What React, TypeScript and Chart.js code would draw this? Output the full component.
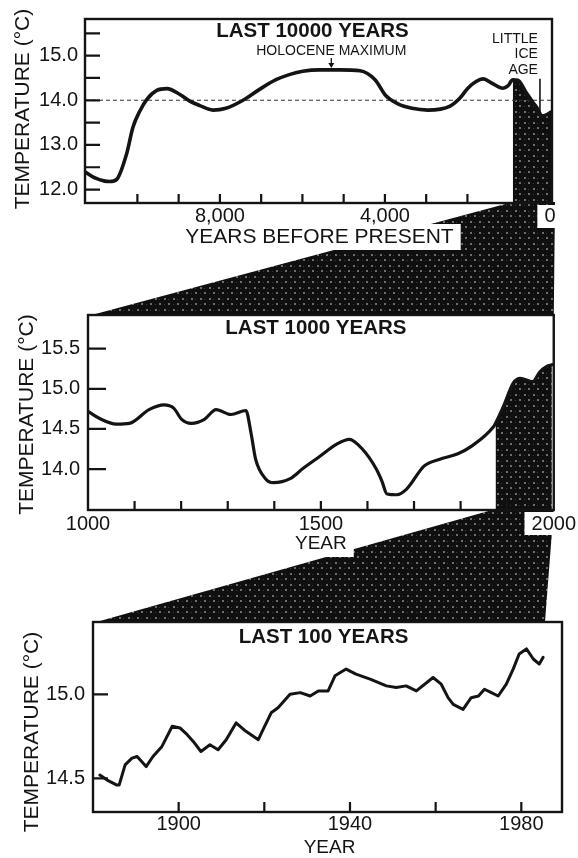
import React, { useEffect, useRef } from 'react';
import { Chart, registerables } from 'chart.js';

Chart.register(...registerables);

const FONT = "'Liberation Sans', Arial, Helvetica, sans-serif";
const INK = '#141414';

// ---------- Panel 1: last 10000 years (years before present) ----------
const p1Years = [11270, 11030, 10790, 10670, 10500, 10255, 10110, 9940, 9770, 9530, 9285, 8970, 8730, 8485, 8170, 7855, 7440, 7030, 6640, 6300, 5990, 5575, 5090, 4605, 4240, 3975, 3685, 3345, 2960, 2420, 2180, 1990, 1790, 1620, 1400, 1140, 1020, 900, 780, 560, 410, 315, 195, 75, -50];
const p1Temps = [12.40, 12.26, 12.19, 12.18, 12.23, 12.82, 13.39, 13.76, 14.02, 14.22, 14.26, 14.13, 13.98, 13.88, 13.78, 13.82, 14.00, 14.25, 14.46, 14.58, 14.65, 14.68, 14.68, 14.66, 14.46, 14.10, 13.92, 13.82, 13.78, 13.87, 14.05, 14.27, 14.42, 14.48, 14.38, 14.27, 14.32, 14.46, 14.45, 14.15, 13.95, 13.83, 13.65, 13.68, 13.75];
const p1XRange = [-50, 11270];
const p1YRange = [11.70, 15.82];
const p1XLabels = [8000, 4000, 0];
const p1XMarks = [10000, 9000, 8000, 7000, 6000, 5000, 4000, 3000, 2000];
const p1YLabels = [12, 13, 14, 15];
const p1YMarks = [12, 12.5, 13, 13.5, 14, 14.5, 15, 15.5];
const p1Reference = 14.0;
const p1ZoomFrom = [900, 0];
const holoceneYear = 5300;
const liaYear = 242;
const liaTemps = [13.70, 14.48];
const liaLines = ['LITTLE', 'ICE', 'AGE'];

// ---------- Panel 2: last 1000 years ----------
const p2Years = [1000, 1025, 1061, 1089, 1131, 1163, 1184, 1201, 1222, 1250, 1275, 1307, 1339, 1350, 1360, 1381, 1398, 1434, 1462, 1498, 1534, 1561, 1589, 1619, 1631, 1642, 1663, 1684, 1722, 1754, 1794, 1822, 1871, 1875, 1892, 1913, 1928, 1955, 1970, 1985, 1996];
const p2Temps = [14.72, 14.63, 14.56, 14.57, 14.74, 14.80, 14.76, 14.62, 14.57, 14.62, 14.74, 14.68, 14.73, 14.45, 14.12, 13.88, 13.83, 13.88, 14.01, 14.16, 14.31, 14.37, 14.25, 14.00, 13.85, 13.69, 13.68, 13.75, 14.04, 14.12, 14.19, 14.28, 14.53, 14.57, 14.78, 15.07, 15.13, 15.09, 15.21, 15.28, 15.30];
const p2XRange = [1000, 2000];
const p2YRange = [13.49, 15.92];
const p2XLabels = [1000, 1500, 2000];
const p2XMarks = [1100, 1200, 1300, 1400, 1500, 1600, 1700, 1800, 1900];
const p2YLabels = [14, 14.5, 15, 15.5];
const p2YMarks = [14, 14.5, 15, 15.5];
const p2ZoomFrom = [1875, 2000];

// ---------- Panel 3: last 100 years ----------
const p3Years = [1881.6, 1883.3, 1885.6, 1886.1, 1887.5, 1889.1, 1890.3, 1892.4, 1894.0, 1896.1, 1897.5, 1898.5, 1900.3, 1902.0, 1903.4, 1905.2, 1907.3, 1909.2, 1911.1, 1913.4, 1915.7, 1918.6, 1919.7, 1921.6, 1923.2, 1926.0, 1928.4, 1930.7, 1932.6, 1934.9, 1936.5, 1939.1, 1941.4, 1944.7, 1948.5, 1950.8, 1953.1, 1955.5, 1959.4, 1961.3, 1962.9, 1964.1, 1966.4, 1968.3, 1970.0, 1971.4, 1973.0, 1974.6, 1976.5, 1978.1, 1979.5, 1981.2, 1982.8, 1984.2, 1985.1];
const p3Temps = [14.52, 14.49, 14.46, 14.46, 14.58, 14.62, 14.63, 14.57, 14.63, 14.69, 14.76, 14.81, 14.80, 14.76, 14.72, 14.66, 14.70, 14.67, 14.73, 14.83, 14.78, 14.73, 14.79, 14.89, 14.92, 15.00, 15.01, 14.99, 15.02, 15.02, 15.11, 15.15, 15.12, 15.09, 15.05, 15.04, 15.05, 15.02, 15.10, 15.06, 14.98, 14.94, 14.91, 14.98, 14.99, 15.03, 15.01, 14.99, 15.06, 15.15, 15.24, 15.27, 15.21, 15.18, 15.22];
const p3XRange = [1880, 1989.5];
const p3YRange = [14.30, 15.43];
const p3XLabels = [1900, 1940, 1980];
const p3XMarks = [1900, 1920, 1940, 1960, 1980];
const p3YLabels = [14.5, 15];
const p3YMarks = [14.5, 15];
const p3ZoomTo = [1880, 1985.5];

const Y_TITLE = 'TEMPERATURE (°C)';

function makePattern(ctx: CanvasRenderingContext2D): CanvasPattern | string {
  const c = document.createElement('canvas');
  c.width = 9;
  c.height = 11;
  const g = c.getContext('2d')!;
  g.fillStyle = '#0f0f0f';
  g.fillRect(0, 0, 9, 11);
  g.fillStyle = '#6e6e6e';
  g.fillRect(2, 1, 2, 2);
  g.fillRect(6, 6, 2, 2);
  g.fillStyle = '#3a3a3a';
  g.fillRect(2, 7, 1, 1);
  g.fillRect(6, 2, 1, 1);
  return ctx.createPattern(c, 'repeat') || '#111';
}

type Spec = {
  xs: number[]; ys: number[];
  xRange: number[]; yRange: number[]; reverse: boolean;
  xLabels: number[]; xMarks: number[]; yLabels: number[]; yMarks: number[];
  xFmt: (v: number) => string; yFmt: (v: number) => string;
  zoomFrom?: number[];
  pad: { top: number; right: number }; yAxisWidth: number; xAxisHeight: number;
  xLabelPad: number; yLabelPad: number;
  yTickLen: number; xTickLen: number; lineWidth: number; smooth: boolean;
  title: string; titleDx: number; titleDy: number;
  xTitle: string; xTitleSize: number; xTitleDx: number; xTitleDy: number; xTitleBox: boolean;
  yTitleX: number; yTitleDy: number;
  boxedLabels: number[];
  extraDatasets?: any[];
  extra?: (chart: any) => void;
};

function buildChart(canvas: HTMLCanvasElement, spec: Spec): Chart {
  const ctx = canvas.getContext('2d')!;
  const pattern = makePattern(ctx);
  const pts = spec.xs.map((x, i) => ({ x, y: spec.ys[i] }));
  const datasets: any[] = [
    {
      data: pts, borderColor: INK, borderWidth: spec.lineWidth, pointRadius: 0, fill: false,
      tension: spec.smooth ? 0.4 : 0, cubicInterpolationMode: spec.smooth ? 'monotone' : 'default',
      borderCapStyle: 'round', borderJoinStyle: 'round',
    },
    ...(spec.extraDatasets || []),
  ];
  if (spec.zoomFrom) {
    const fillPts = pts.filter((p) => (spec.reverse ? p.x <= spec.zoomFrom![0] : p.x >= spec.zoomFrom![0]));
    datasets.push({
      data: fillPts, borderWidth: 0, pointRadius: 0, fill: 'start', backgroundColor: pattern,
      tension: 0.4, cubicInterpolationMode: spec.smooth ? 'monotone' : 'default',
    });
  }

  const deco = {
    id: 'deco',
    beforeDraw(chart: any) {
      const { chartArea: a, scales } = chart;
      const c = chart.ctx as CanvasRenderingContext2D;
      c.save();
      c.fillStyle = '#fff';
      c.font = `20px ${FONT}`;
      for (const v of spec.boxedLabels) {
        const x = scales.x.getPixelForValue(v);
        const w = c.measureText(spec.xFmt(v)).width;
        c.fillRect(x - w / 2 - 7, a.bottom + 2, w + 14, 23);
      }
      if (spec.xTitleBox) {
        c.font = `${spec.xTitleSize}px ${FONT}`;
        const w = c.measureText(spec.xTitle).width;
        const cx = (a.left + a.right) / 2 + spec.xTitleDx;
        const cy = a.bottom + spec.xTitleDy;
        c.fillRect(cx - w / 2 - 7, cy - 13, w + 14, 26);
      }
      c.restore();
    },
    afterDatasetsDraw(chart: any) {
      const { chartArea: a, scales } = chart;
      const c = chart.ctx as CanvasRenderingContext2D;
      c.save();
      c.strokeStyle = INK;
      c.lineWidth = 2.4;
      c.strokeRect(a.left, a.top, a.right - a.left, a.bottom - a.top);
      c.lineWidth = 2.2;
      c.beginPath();
      for (const v of spec.yMarks) {
        const y = scales.y.getPixelForValue(v);
        c.moveTo(a.left, y);
        c.lineTo(a.left + spec.yTickLen, y);
      }
      for (const v of spec.xMarks) {
        const x = scales.x.getPixelForValue(v);
        c.moveTo(x, a.bottom);
        c.lineTo(x, a.bottom - spec.xTickLen);
      }
      c.stroke();
      if (spec.extra) spec.extra(chart);
      c.restore();
    },
    afterDraw(chart: any) {
      const { chartArea: a } = chart;
      const c = chart.ctx as CanvasRenderingContext2D;
      c.save();
      c.fillStyle = INK;
      c.textAlign = 'center';
      c.textBaseline = 'middle';
      c.font = `bold 20.5px ${FONT}`;
      c.fillText(spec.title, (a.left + a.right) / 2 + spec.titleDx, a.top + spec.titleDy);
      c.font = `${spec.xTitleSize}px ${FONT}`;
      c.fillText(spec.xTitle, (a.left + a.right) / 2 + spec.xTitleDx, a.bottom + spec.xTitleDy);
      c.translate(spec.yTitleX, (a.top + a.bottom) / 2 + spec.yTitleDy);
      c.rotate(-Math.PI / 2);
      c.font = `21px ${FONT}`;
      c.fillText(Y_TITLE, 0, 0);
      c.restore();
    },
  };

  return new Chart(canvas, {
    type: 'line',
    data: { datasets },
    options: {
      responsive: false,
      animation: false,
      events: [],
      layout: { padding: { left: 0, top: spec.pad.top, right: spec.pad.right, bottom: 0 } },
      plugins: { legend: { display: false }, tooltip: { enabled: false }, title: { display: false } },
      scales: {
        x: {
          type: 'linear', min: spec.xRange[0], max: spec.xRange[1], reverse: spec.reverse,
          grid: { display: false, drawTicks: false }, border: { display: false },
          ticks: {
            autoSkip: false, maxRotation: 0, padding: spec.xLabelPad, color: INK,
            font: { family: FONT, size: 20 }, callback: (v: any) => spec.xFmt(Number(v)),
          },
          afterBuildTicks: (s: any) => { s.ticks = spec.xLabels.map((v) => ({ value: v })); },
          afterFit: (s: any) => { s.height = spec.xAxisHeight; },
        },
        y: {
          type: 'linear', min: spec.yRange[0], max: spec.yRange[1],
          grid: { display: false, drawTicks: false }, border: { display: false },
          ticks: {
            autoSkip: false, padding: spec.yLabelPad, color: INK,
            font: { family: FONT, size: 20 }, callback: (v: any) => spec.yFmt(Number(v)),
          },
          afterBuildTicks: (s: any) => { s.ticks = spec.yLabels.map((v) => ({ value: v })); },
          afterFit: (s: any) => { s.width = spec.yAxisWidth; },
        },
      },
    } as any,
    plugins: [deco as any],
  });
}

const CANVAS_TOPS = [0, 250, 560];
const CANVAS_HEIGHTS = [250, 310, 298];

export default function App() {
  const overlayRef = useRef<HTMLCanvasElement>(null);
  const r1 = useRef<HTMLCanvasElement>(null);
  const r2 = useRef<HTMLCanvasElement>(null);
  const r3 = useRef<HTMLCanvasElement>(null);

  useEffect(() => {
    const fmtComma = (v: number) => v.toLocaleString('en-US');
    const fmtYear = (v: number) => String(v);
    const fmt1 = (v: number) => v.toFixed(1);

    const c1 = buildChart(r1.current!, {
      xs: p1Years, ys: p1Temps, xRange: p1XRange, yRange: p1YRange, reverse: true,
      xLabels: p1XLabels, xMarks: p1XMarks, yLabels: p1YLabels, yMarks: p1YMarks,
      xFmt: fmtComma, yFmt: fmt1, zoomFrom: p1ZoomFrom,
      pad: { top: 15, right: 26 }, yAxisWidth: 85, xAxisHeight: 47,
      xLabelPad: 1, yLabelPad: 7, yTickLen: 15, xTickLen: 9, lineWidth: 3.6, smooth: true,
      title: 'LAST 10000 YEARS', titleDx: -6, titleDy: 12,
      xTitle: 'YEARS BEFORE PRESENT', xTitleSize: 21, xTitleDx: 1, xTitleDy: 34, xTitleBox: true,
      yTitleX: 23, yTitleDy: -2, boxedLabels: [0],
      extraDatasets: [
        {
          data: [{ x: p1XRange[1], y: p1Reference }, { x: p1XRange[0], y: p1Reference }],
          borderColor: '#333', borderWidth: 1.1, borderDash: [4, 3], pointRadius: 0, fill: false,
        },
        {
          data: liaTemps.map((t) => ({ x: liaYear, y: t })),
          borderColor: INK, borderWidth: 1.6, pointRadius: 0, fill: false,
        },
      ],
      extra: (chart: any) => {
        const c = chart.ctx as CanvasRenderingContext2D;
        const a = chart.chartArea;
        const hx = chart.scales.x.getPixelForValue(holoceneYear);
        c.fillStyle = INK;
        c.font = `14px ${FONT}`;
        c.textAlign = 'center';
        c.textBaseline = 'middle';
        c.fillText('HOLOCENE MAXIMUM', hx, a.top + 32);
        c.lineWidth = 1.3;
        c.beginPath();
        c.moveTo(hx, a.top + 39);
        c.lineTo(hx, a.top + 46);
        c.stroke();
        c.beginPath();
        c.moveTo(hx - 3, a.top + 44);
        c.lineTo(hx + 3, a.top + 44);
        c.lineTo(hx, a.top + 49);
        c.closePath();
        c.fill();
        const lx = chart.scales.x.getPixelForValue(liaYear);
        const ly = chart.scales.y.getPixelForValue(liaTemps[1]);
        c.textAlign = 'right';
        liaLines.forEach((t, i) => c.fillText(t, lx - 2, ly - 40 + i * 15.5));
      },
    });

    const c2 = buildChart(r2.current!, {
      xs: p2Years, ys: p2Temps, xRange: p2XRange, yRange: p2YRange, reverse: false,
      xLabels: p2XLabels, xMarks: p2XMarks, yLabels: p2YLabels, yMarks: p2YMarks,
      xFmt: fmtYear, yFmt: fmt1, zoomFrom: p2ZoomFrom,
      pad: { top: 65, right: 19 }, yAxisWidth: 88, xAxisHeight: 50,
      xLabelPad: 2, yLabelPad: 8, yTickLen: 18, xTickLen: 9, lineWidth: 3.2, smooth: true,
      title: 'LAST 1000 YEARS', titleDx: -5, titleDy: 13,
      xTitle: 'YEAR', xTitleSize: 19, xTitleDx: 0, xTitleDy: 34, xTitleBox: true,
      yTitleX: 27, yTitleDy: 2, boxedLabels: [2000],
    });

    const c3 = buildChart(r3.current!, {
      xs: p3Years, ys: p3Temps, xRange: p3XRange, yRange: p3YRange, reverse: false,
      xLabels: p3XLabels, xMarks: p3XMarks, yLabels: p3YLabels, yMarks: p3YMarks,
      xFmt: fmtYear, yFmt: fmt1,
      pad: { top: 62, right: 16 }, yAxisWidth: 93, xAxisHeight: 46,
      xLabelPad: 0, yLabelPad: 8, yTickLen: 15, xTickLen: 10, lineWidth: 3.0, smooth: false,
      title: 'LAST 100 YEARS', titleDx: -4, titleDy: 15,
      xTitle: 'YEAR', xTitleSize: 19, xTitleDx: 2, xTitleDy: 36, xTitleBox: false,
      yTitleX: 32, yTitleDy: 15, boxedLabels: [],
    });

    // connecting wedges drawn behind the charts
    const ov = overlayRef.current!;
    const g = ov.getContext('2d')!;
    g.clearRect(0, 0, ov.width, ov.height);
    g.fillStyle = makePattern(g) as any;
    const a1 = c1.chartArea, a2 = c2.chartArea, a3 = c3.chartArea;
    const t1 = CANVAS_TOPS[0], t2 = CANVAS_TOPS[1], t3 = CANVAS_TOPS[2];
    g.beginPath();
    g.moveTo(c1.scales.x.getPixelForValue(p1ZoomFrom[0]), t1 + a1.bottom - 1);
    g.lineTo(a1.right + 3, t1 + a1.bottom - 1);
    g.lineTo(c2.scales.x.getPixelForValue(p2XRange[1]), t2 + a2.top + 1);
    g.lineTo(c2.scales.x.getPixelForValue(p2XRange[0]), t2 + a2.top + 1);
    g.closePath();
    g.fill();
    g.beginPath();
    g.moveTo(c2.scales.x.getPixelForValue(p2ZoomFrom[0]), t2 + a2.bottom - 1);
    g.lineTo(c2.scales.x.getPixelForValue(p2ZoomFrom[1]), t2 + a2.bottom - 1);
    g.lineTo(c3.scales.x.getPixelForValue(p3ZoomTo[1]), t3 + a3.top + 1);
    g.lineTo(c3.scales.x.getPixelForValue(p3ZoomTo[0]), t3 + a3.top + 1);
    g.closePath();
    g.fill();

    return () => {
      c1.destroy();
      c2.destroy();
      c3.destroy();
    };
  }, []);

  const cs = (i: number): React.CSSProperties => ({
    position: 'absolute', left: 0, top: CANVAS_TOPS[i], width: 578, height: CANVAS_HEIGHTS[i],
  });

  return (
    <div style={{ position: 'absolute', left: 0, top: 0, width: 578, height: 858, background: '#fff', overflow: 'hidden' }}>
      <canvas ref={overlayRef} width={578} height={858} style={{ position: 'absolute', left: 0, top: 0, width: 578, height: 858 }} />
      <canvas ref={r1} width={578} height={CANVAS_HEIGHTS[0]} style={cs(0)} />
      <canvas ref={r2} width={578} height={CANVAS_HEIGHTS[1]} style={cs(1)} />
      <canvas ref={r3} width={578} height={CANVAS_HEIGHTS[2]} style={cs(2)} />
    </div>
  );
}
